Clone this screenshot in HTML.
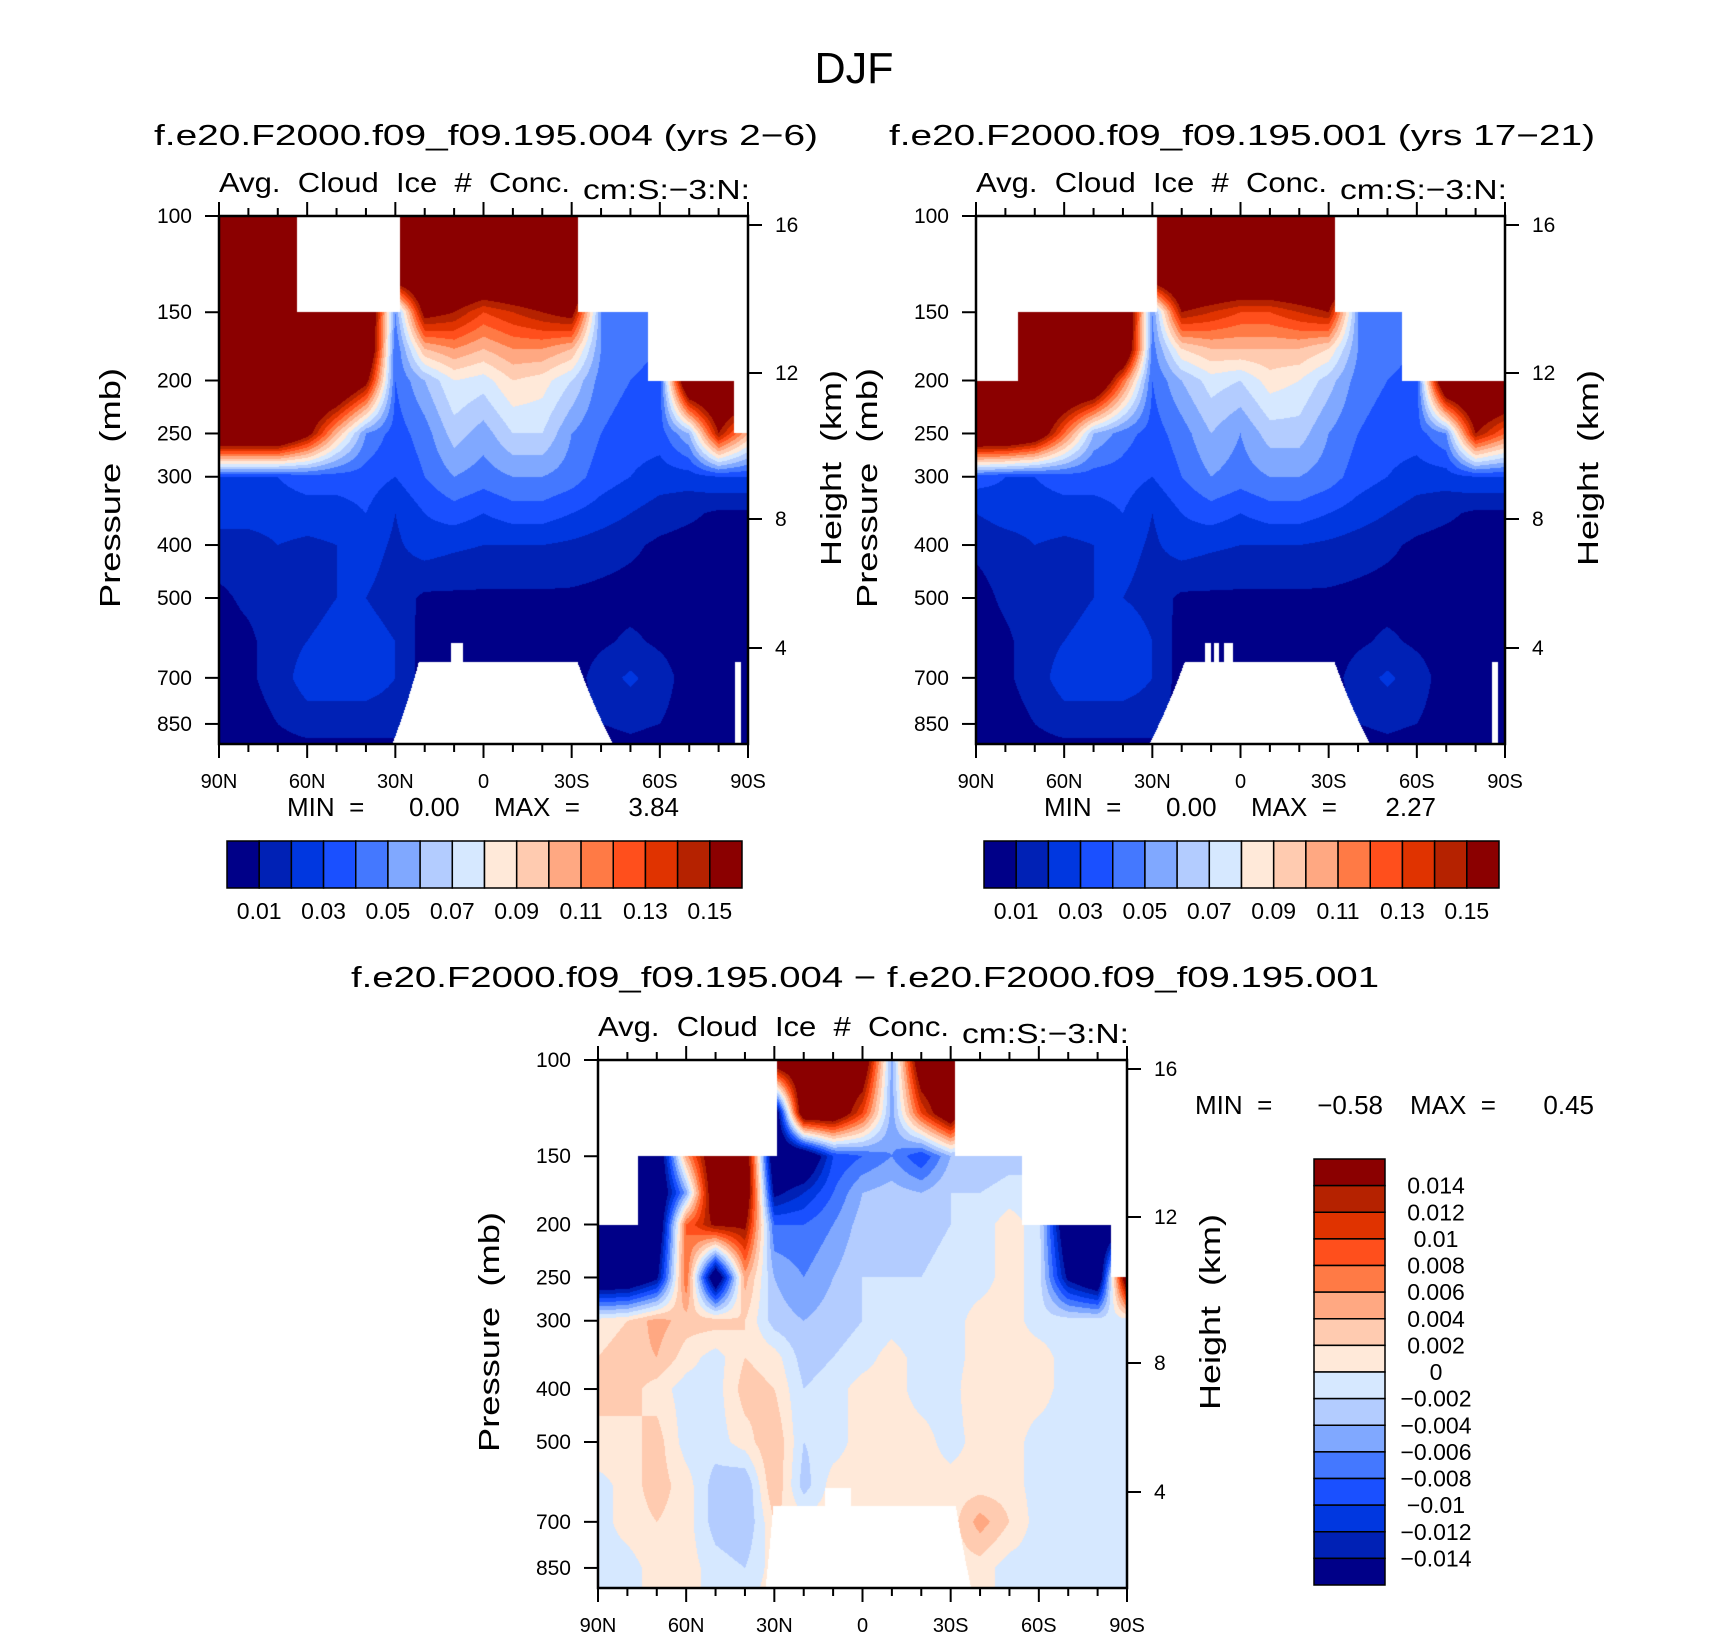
<!DOCTYPE html>
<html><head><meta charset="utf-8">
<style>
html,body{margin:0;padding:0;background:#fff;}
#wrap{position:relative;width:1710px;height:1639px;overflow:hidden;background:#fff;}
canvas{position:absolute;}
svg{position:absolute;left:0;top:0;}
text{font-family:"Liberation Sans",sans-serif;fill:#000;white-space:pre;}
</style></head>
<body>
<div id="wrap">
<canvas id="c1" width="529" height="528" style="left:219px;top:216px"></canvas>
<canvas id="c2" width="529" height="528" style="left:976px;top:216px"></canvas>
<canvas id="c3" width="529" height="528" style="left:598px;top:1060px"></canvas>
<svg id="ov" width="1710" height="1639">
<text x="854" y="83" font-size="44" text-anchor="middle" textLength="79" lengthAdjust="spacingAndGlyphs">DJF</text>
<text x="154" y="145" font-size="29" textLength="664" lengthAdjust="spacingAndGlyphs">f.e20.F2000.f09_f09.195.004 (yrs 2−6)</text>
<text x="889" y="145" font-size="29" textLength="706" lengthAdjust="spacingAndGlyphs">f.e20.F2000.f09_f09.195.001 (yrs 17−21)</text>
<text x="351" y="987" font-size="29" textLength="1028" lengthAdjust="spacingAndGlyphs">f.e20.F2000.f09_f09.195.004 − f.e20.F2000.f09_f09.195.001</text>
</svg>
</div>
<script>
// ---- data ----
const levels=[100,125,150,175,200,250,300,350,400,500,600,700,850,925];
const lats=[90,80,70,60,50,40,30,20,10,0,-10,-20,-30,-40,-50,-60,-70,-80,-90];
const field1=[
[.2,.2,.2,.2,.2,.2,.2,.2,.2,.2,.2,.2,.2,.2,.2,.2,.2,.2,.2],
[.2,.2,.2,.2,.2,.2,.2,.2,.2,.2,.2,.2,.2,.2,.2,.2,.2,.2,.2],
[.2,.2,.2,.2,.2,.2,.05,.16,.15,.13,.14,.15,.16,.05,.05,.05,.2,.2,.2],
[.2,.2,.2,.2,.2,.2,.04,.1,.11,.1,.11,.11,.1,.05,.045,.04,.2,.2,.2],
[.2,.2,.2,.2,.2,.16,.04,.06,.08,.075,.09,.085,.07,.045,.04,.035,.2,.2,.2],
[.2,.2,.2,.16,.1,.05,.035,.045,.065,.055,.07,.07,.05,.04,.035,.035,.06,.15,.1],
[.03,.03,.03,.035,.035,.035,.03,.04,.05,.045,.05,.05,.045,.035,.03,.025,.025,.03,.03],
[.025,.025,.025,.025,.025,.03,.02,.03,.035,.03,.035,.035,.03,.025,.02,.015,.012,.008,.008],
[.015,.015,.02,.018,.02,.025,.018,.025,.022,.02,.02,.02,.018,.015,.012,.008,.006,.006,.006],
[.008,.012,.015,.015,.02,.02,.015,.008,.008,.008,.008,.008,.008,.007,.006,.006,.006,.006,.006],
[.006,.008,.015,.02,.025,.025,.02,.005,.005,.005,.005,.005,.005,.008,.012,.008,.005,.005,.005],
[.005,.008,.015,.025,.025,.025,.02,.005,.005,.005,.005,.005,.005,.015,.022,.015,.005,.005,.005],
[.005,.005,.01,.015,.015,.015,.015,.005,.005,.005,.005,.005,.005,.01,.012,.01,.005,.005,.005],
[.005,.005,.006,.008,.008,.008,.008,.005,.005,.005,.005,.005,.005,.006,.008,.006,.005,.005,.005]];
const field2=[
[.2,.2,.2,.2,.2,.2,.2,.2,.2,.2,.2,.2,.2,.2,.2,.2,.2,.2,.2],
[.2,.2,.2,.2,.2,.2,.2,.2,.2,.2,.2,.2,.2,.2,.2,.2,.2,.2,.2],
[.2,.2,.2,.2,.2,.2,.05,.15,.14,.13,.13,.14,.15,.05,.05,.05,.05,.05,.05],
[.2,.2,.2,.2,.2,.2,.045,.09,.1,.1,.1,.1,.09,.05,.045,.04,.04,.2,.2],
[.2,.2,.2,.2,.2,.12,.04,.06,.075,.07,.085,.08,.065,.045,.04,.035,.2,.2,.2],
[.2,.2,.18,.12,.06,.045,.035,.045,.06,.05,.065,.065,.05,.04,.035,.035,.05,.15,.12],
[.035,.03,.03,.035,.035,.035,.03,.04,.05,.045,.05,.05,.045,.035,.03,.025,.025,.03,.03],
[.02,.025,.025,.025,.025,.03,.02,.03,.035,.03,.035,.035,.03,.025,.02,.015,.012,.008,.008],
[.012,.015,.02,.018,.02,.025,.018,.025,.022,.02,.02,.02,.018,.015,.012,.008,.006,.006,.006],
[.006,.012,.015,.015,.02,.02,.015,.008,.008,.008,.008,.008,.008,.007,.006,.006,.006,.006,.006],
[.005,.008,.015,.02,.025,.03,.02,.005,.005,.005,.005,.005,.005,.008,.012,.008,.005,.005,.005],
[.005,.008,.015,.025,.025,.025,.02,.005,.005,.005,.005,.005,.005,.015,.022,.015,.005,.005,.005],
[.005,.005,.01,.015,.015,.015,.015,.005,.005,.005,.005,.005,.005,.01,.012,.01,.005,.005,.005],
[.005,.005,.006,.008,.008,.008,.008,.005,.005,.005,.005,.005,.005,.006,.008,.006,.005,.005,.005]];
const field3=[
[0,0,0,0,0,0,.02,.02,.02,.02,-.005,.02,.02,0,0,0,0,0,0],
[0,0,0,0,0,0,-.02,.02,.02,.01,-.005,.01,.02,0,0,0,0,0,0],
[0,-.02,-.02,.005,.02,.02,-.02,-.02,-.01,-.008,-.006,-.01,-.004,-.004,-.003,-.003,-.002,-.002,-.002],
[-.02,-.02,-.02,-.005,.02,.02,-.015,-.012,-.008,-.004,-.003,-.004,-.002,-.002,-.001,-.001,-.002,-.02,-.02],
[-.02,-.02,-.02,.008,.015,.015,-.008,-.008,-.006,-.003,-.002,-.003,-.002,-.001,.001,-.001,-.02,-.02,-.02],
[-.02,-.02,-.015,.008,-.02,.005,-.004,-.006,-.004,-.002,-.002,-.002,-.001,-.001,.001,-.001,-.015,-.02,.02],
[.001,.002,.005,.003,.003,.002,-.003,-.004,-.003,-.002,-.001,-.002,-.001,.001,.001,-.001,-.001,-.001,-.001],
[.002,.003,.004,.001,-.001,.002,.001,-.003,-.002,-.001,.001,-.001,-.001,.001,.001,.001,-.001,-.001,-.001],
[.002,.003,.001,-.001,-.001,.003,.002,-.002,-.001,.001,.001,-.001,-.001,.002,.001,.001,-.001,-.001,-.001],
[.002,.001,.003,-.001,-.001,.001,.004,-.002,-.001,.001,.001,.001,-.001,.001,.001,-.001,-.001,-.001,-.001],
[-.001,.001,.003,.001,-.003,-.004,.004,-.003,.001,.001,.001,.001,.001,.001,.001,-.001,-.001,-.001,-.001],
[-.001,.001,.002,.001,-.003,-.004,.002,.001,.001,.001,.001,.001,.001,.005,.002,-.001,-.001,-.001,-.001],
[-.001,-.001,.001,.001,-.001,-.002,.001,.001,.001,.001,.001,.001,.001,.001,-.001,-.001,-.001,-.001,-.001],
[-.001,-.001,.001,.001,-.001,-.001,.001,.001,.001,.001,.001,.001,.001,.001,-.001,-.001,-.001,-.001,-.001]];
// top of valid data: [latFrom, latTo, pTop]
const top1=[[90,63.3,100],[63.3,28.4,150],[28.4,-32.2,100],[-32.2,-55.9,150],[-55.9,-85.3,200],[-85.3,-90,250]];
const top2=[[90,75.6,200],[75.6,28.4,150],[28.4,-32.2,100],[-32.2,-55,150],[-55,-90,200]];
const top3=[[90,76.3,200],[76.3,29,150],[29,-31.5,100],[-31.5,-54.4,150],[-54.4,-84.4,200],[-84.4,-90,250]];
// surface: [latFrom, latTo, pFrom, pTo]
const sfc1=[[90,31,1000,1000],[31,22,925,655],[22,11,655,655],[11,7,604,604],[7,-32,655,655],[-32,-44,655,925],[-44,-85.5,1000,1000],[-85.5,-87.5,655,655],[-87.5,-90,1000,1000]];
const sfc2=[[90,31,1000,1000],[31,19,925,655],[19,12,655,655],[12,10,604,604],[10,9,655,655],[9,7.3,604,604],[7.3,5.5,655,655],[5.5,2.7,604,604],[2.7,-32,655,655],[-32,-44,655,925],[-44,-85.5,1000,1000],[-85.5,-87.5,655,655],[-87.5,-90,1000,1000]];
const sfc3=[[90,33,1000,1000],[33,30.4,925,656],[30.4,12.8,656,656],[12.8,4,607,607],[4,-31.8,656,656],[-31.8,-37,656,925],[-37,-90,1000,1000]];
const colors=["#000088","#0021b5","#0037e0","#1a50ff","#4478ff","#80a8ff","#b3ccff","#d6e8ff","#ffe9d9","#ffcbb0","#ffa882","#ff7a45","#ff4f1c","#e03300","#b52200","#8b0000"];
const bounds12=[0.01,0.02,0.03,0.04,0.05,0.06,0.07,0.08,0.09,0.10,0.11,0.12,0.13,0.14,0.15];
const bounds3=[-0.014,-0.012,-0.01,-0.008,-0.006,-0.004,-0.002,0,0.002,0.004,0.006,0.008,0.01,0.012,0.014];
const presTicks=[100,150,200,250,300,400,500,700,850];
const heightTicks=[16,12,8,4];
const heightFrac=[9/528,157/528,303/528,432/528];
const latTicks=["90N","60N","30N","0","30S","60S","90S"];
const cbLabels12=["0.01","0.03","0.05","0.07","0.09","0.11","0.13","0.15"];
const cbLabels3=["0.014","0.012","0.01","0.008","0.006","0.004","0.002","0","−0.002","−0.004","−0.006","−0.008","−0.01","−0.012","−0.014"];
const PBOT=925, W=529, H=528;

function pAt(fy){return 100*Math.exp(fy*Math.log(PBOT/100));}
function yOfP(p){return Math.log(p/100)/Math.log(PBOT/100)*H;}
function hex(c){return [parseInt(c.slice(1,3),16),parseInt(c.slice(3,5),16),parseInt(c.slice(5,7),16)];}
const rgb=colors.map(hex);
function segVal(segs,lat){for(const s of segs){if(lat<=s[0]&&lat>=s[1]){if(s.length===3)return s[2];const t=(s[0]-lat)/(s[0]-s[1]||1);return s[2]+(s[3]-s[2])*t;}}return segs[segs.length-1][segs[segs.length-1].length-1];}
function draw(id,field,top,sfc,bounds){
  const cv=document.getElementById(id),ctx=cv.getContext('2d');
  const img=ctx.createImageData(W,H),d=img.data;
  for(let y=0;y<H;y++){
    const p=pAt((y+0.5)/H);
    let k=0;while(k<levels.length-2&&p>levels[k+1])k++;
    let t=Math.log(p/levels[k])/Math.log(levels[k+1]/levels[k]);t=Math.max(0,Math.min(1,t));
    for(let x=0;x<W;x++){
      const lat=90-180*(x+0.5)/W;
      const i=y*W*4+x*4;
      if(p<segVal(top,lat)||p>segVal(sfc,lat)){d[i]=255;d[i+1]=255;d[i+2]=255;d[i+3]=255;continue;}
      const fi=(90-lat)/10;let j=Math.min(17,Math.floor(fi));const u=fi-j;
      const v0=field[k][j]*(1-u)+field[k][j+1]*u;
      const v1=field[k+1][j]*(1-u)+field[k+1][j+1]*u;
      const v=v0*(1-t)+v1*t;
      let c=0;while(c<bounds.length&&v>=bounds[c])c++;
      d[i]=rgb[c][0];d[i+1]=rgb[c][1];d[i+2]=rgb[c][2];d[i+3]=255;
    }
  }
  ctx.putImageData(img,0,0);
}
draw('c1',field1,top1,sfc1,bounds12);
draw('c2',field2,top2,sfc2,bounds12);
draw('c3',field3,top3,sfc3,bounds3);

const NS="http://www.w3.org/2000/svg",svg=document.getElementById('ov');
function mk(tag,attrs,txt){const e=document.createElementNS(NS,tag);for(const k in attrs)e.setAttribute(k,attrs[k]);if(txt!==undefined)e.textContent=txt;svg.appendChild(e);return e;}
function axes(x0,y0,name){
  const fr=mk('rect',{x:x0,y:y0,width:W,height:H,fill:'none',stroke:'#000','stroke-width':2.5});
  
  
  for(let l=0;l<=18;l++){
    const x=x0+W*l/18,len=(l%3===0)?14:8;
    const t1=mk('line',{x1:x,y1:y0,x2:x,y2:y0-len,stroke:'#000','stroke-width':2});
    
    
    const t2=mk('line',{x1:x,y1:y0+H,x2:x,y2:y0+H+len,stroke:'#000','stroke-width':2});
    
    
  }
  latTicks.forEach((s,i)=>{
    const e=mk('text',{x:x0+W*i/6,y:y0+H+44,'font-size':20,'text-anchor':'middle'},s);
    
    
  });
  presTicks.forEach(p=>{
    const y=y0+yOfP(p);
    const ln=mk('line',{x1:x0,y1:y,x2:x0-14,y2:y,stroke:'#000','stroke-width':2});
    
    
    const e=mk('text',{x:x0-27,y:y+7,'font-size':21,'text-anchor':'end'},String(p));
    
    
  });
  heightTicks.forEach((h,i)=>{
    const y=y0+H*heightFrac[i];
    const ln=mk('line',{x1:x0+W,y1:y,x2:x0+W+14,y2:y,stroke:'#000','stroke-width':2});
    
    
    const e=mk('text',{x:x0+W+27,y:y+7,'font-size':21},String(h));
    
    
  });
  const cx1=x0-99,cy=y0+H/2+8;
  const yl=mk('text',{x:cx1,y:cy,'font-size':29,'text-anchor':'middle',transform:`rotate(-90 ${cx1} ${cy})`,textLength:240,lengthAdjust:'spacingAndGlyphs'},'Pressure\u00a0\u00a0(mb)');
  
  
  const cx2=x0+W+93;
  const hl=mk('text',{x:cx2,y:cy-20,'font-size':29,'text-anchor':'middle',transform:`rotate(-90 ${cx2} ${cy-20})`,textLength:196,lengthAdjust:'spacingAndGlyphs'},'Height\u00a0\u00a0(km)');
  
  
  const a=mk('text',{x:x0,y:y0-24,'font-size':28,textLength:351,lengthAdjust:'spacingAndGlyphs'},'Avg.\u00a0 Cloud\u00a0 Ice\u00a0 #\u00a0 Conc.');
  
  
  const u=mk('text',{x:x0+364,y:y0-17,'font-size':28,textLength:167,lengthAdjust:'spacingAndGlyphs'},'cm:S:−3:N:');
  
  
}
axes(219,216,'plot-004');
axes(976,216,'plot-001');
axes(598,1060,'plot-diff');

function minmax(x,y,items,name){
  items.forEach(it=>{
    const e=mk('text',{x:x+it[0],y:y,'font-size':26,'text-anchor':it[2]||'start'},it[1]);
    
    
  });
}
minmax(287,816,[[0,'MIN\u00a0\u00a0='],[122,'0.00'],[207,'MAX\u00a0\u00a0='],[392,'3.84','end']],'min-max-label');
minmax(1044,816,[[0,'MIN\u00a0\u00a0='],[122,'0.00'],[207,'MAX\u00a0\u00a0='],[392,'2.27','end']],'min-max-label');
minmax(1195,1114,[[0,'MIN\u00a0\u00a0='],[188,'−0.58','end'],[215,'MAX\u00a0\u00a0='],[399,'0.45','end']],'min-max-label');

function hbar(x0,y0,name){
  const bw=(742-227)/16;
  colors.forEach((c,i)=>{
    const r=mk('rect',{x:x0+i*bw,y:y0,width:bw,height:47,fill:c,stroke:'#000','stroke-width':1.5});
    
    
  });
  cbLabels12.forEach((s,i)=>{
    const e=mk('text',{x:x0+bw*(1+2*i),y:y0+78,'font-size':23,'text-anchor':'middle'},s);
    
    
  });
}
hbar(227,841,'colorbar-004');
hbar(984,841,'colorbar-001');
(function(){
  const x0=1314,y0=1159,bh=(1585-1159)/16;
  for(let i=0;i<16;i++){
    const r=mk('rect',{x:x0,y:y0+i*bh,width:71,height:bh,fill:colors[15-i],stroke:'#000','stroke-width':1.5});
    
    
  }
  cbLabels3.forEach((s,i)=>{
    const e=mk('text',{x:1436,y:y0+bh*(i+1)+8,'font-size':23,'text-anchor':'middle'},s);
    
    
  });
})();
</script>
</body></html>
